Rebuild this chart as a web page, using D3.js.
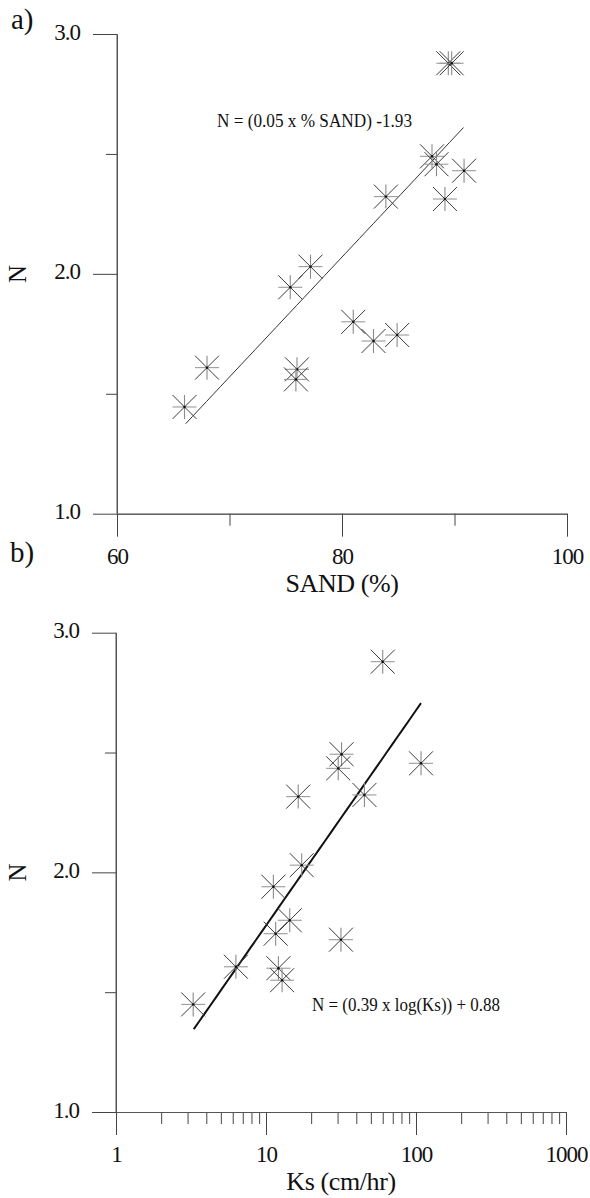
<!DOCTYPE html>
<html>
<head>
<meta charset="utf-8">
<script src="https://cdn.jsdelivr.net/npm/d3@7"></script>
<style>
  html, body { margin: 0; padding: 0; background: #fff; }
  svg { display: block; }
  svg text { font-family: "Liberation Serif", "Times New Roman", Tinos, "Noto Serif", "DejaVu Serif", serif; fill: #111; }
</style>
</head>
<body>
<svg id="chart" width="590" height="1198"></svg>
<script>
// Panel a: curve-shape parameter N against sand content
const sandPct = [89.45, 89.75, 88.0, 88.4, 90.85, 89.15, 83.9, 77.2, 75.4, 81.0, 82.8, 84.9, 68.0, 66.0, 76.0, 75.9];
const nSand   = [2.878, 2.878, 2.49, 2.457, 2.43, 2.312, 2.322, 2.03, 1.944, 1.80, 1.72, 1.745, 1.609, 1.445, 1.602, 1.56];

// Panel b: N against saturated hydraulic conductivity
const ksVals = [60, 108, 31.9, 30.3, 45.3, 16.4, 17.3, 11.2, 14.4, 11.6, 31.6, 12.1, 12.8, 6.3, 3.27];
const nKs    = [2.879, 2.455, 2.493, 2.434, 2.323, 2.316, 2.03, 1.94, 1.80, 1.744, 1.719, 1.60, 1.55, 1.606, 1.449];

// Regression lines as printed on the panels
const sandFit = { slope: 0.05, intercept: -1.93, from: 66.1, to: 90.8 };
const ksFit   = { slope: 0.39, intercept: 0.88, from: 3.3, to: 108 };   // natural log

// Axis ticks and labels
const nMajor = [1, 2, 3];
const nMinor = [1.5, 2.5];
const sandMajor = [60, 80, 100];
const sandMinor = [70, 90];
const ksMajor = [1, 10, 100, 1000];
const ksMinor = [2,3,4,5,6,7,8,9, 20,30,40,50,60,70,80,90, 200,300,400,500,600,700,800,900];

const panelLabels = ["a)", "b)"];
const axisTitles = { n: "N", sand: "SAND (%)", ks: "Ks (cm/hr)" };
const equations = ["N = (0.05 x % SAND) -1.93", "N = (0.39 x log(Ks)) + 0.88"];

const svg = d3.select("#chart");

function star(g, x, y, r) {
  // eight-armed asterisk: lighter cross, darker diagonals, dark centre dot
  g.append("line").attr("x1", x - r).attr("x2", x + r).attr("y1", y).attr("y2", y)
    .attr("stroke", "#9a9a9a").attr("stroke-width", 1.1);
  g.append("line").attr("x1", x).attr("x2", x).attr("y1", y - r).attr("y2", y + r)
    .attr("stroke", "#8a8a8a").attr("stroke-width", 1.1);
  g.append("line").attr("x1", x - r).attr("x2", x + r).attr("y1", y - r).attr("y2", y + r)
    .attr("stroke", "#3a3a3a").attr("stroke-width", 1);
  g.append("line").attr("x1", x - r).attr("x2", x + r).attr("y1", y + r).attr("y2", y - r)
    .attr("stroke", "#3a3a3a").attr("stroke-width", 1);
  g.append("circle").attr("cx", x).attr("cy", y).attr("r", 1.2).attr("fill", "#111");
}

function styleAxis(g) {
  g.attr("font-family", null);
  g.selectAll("path.domain").attr("stroke", "#555").attr("stroke-width", 1);
  g.selectAll(".tick line").attr("stroke", "#444").attr("stroke-width", 1);
  g.selectAll(".tick text")
    .attr("font-size", 23)
    .attr("letter-spacing", "-1px")
    .attr("fill", "#111");
}

function drawPanel(opt) {
  const { x, y, xMajor, xMinor, xFormat, xs, ys, fit, fitFn, lineWidth, lineColor,
          label, labelPos, title, eq, eqPos, eqLen } = opt;
  const g = svg.append("g");
  const [x0] = x.range();
  const [y0] = y.range();

  // y axis: minor then major ticks with labels
  g.append("g").attr("transform", `translate(${x0},0)`)
    .call(d3.axisLeft(y).tickValues(nMinor).tickSize(11).tickSizeOuter(0).tickFormat(""))
    .call(styleAxis);
  const yAx = g.append("g").attr("transform", `translate(${x0},0)`)
    .call(d3.axisLeft(y).tickValues(nMajor).tickSize(24).tickPadding(13).tickSizeOuter(0).tickFormat(d3.format(".1f")))
    .call(styleAxis);
  yAx.selectAll(".tick text").attr("dy", "0.22em");
  yAx.select("path.domain").attr("d", `M0,${y(3)}V${y(1)}`);

  // x axis
  g.append("g").attr("transform", `translate(0,${y0})`)
    .call(d3.axisBottom(x).tickValues(xMinor).tickSize(12).tickSizeOuter(0).tickFormat(""))
    .call(styleAxis);
  g.append("g").attr("transform", `translate(0,${y0})`)
    .call(d3.axisBottom(x).tickValues(xMajor).tickSize(23).tickPadding(11).tickSizeOuter(0).tickFormat(xFormat))
    .call(styleAxis);

  // axis titles
  g.append("text")
    .attr("transform", `translate(${17},${y(2)}) rotate(-90)`)
    .attr("text-anchor", "middle").attr("dy", "0.35em")
    .attr("font-size", 25).text(axisTitles.n);
  g.append("text")
    .attr("x", (x.range()[0] + x.range()[1]) / 2).attr("y", y0 + 78)
    .attr("text-anchor", "middle").attr("font-size", 26).attr("letter-spacing", "-0.4px")
    .text(title);

  // panel letter
  g.append("text").attr("x", labelPos[0]).attr("y", labelPos[1])
    .attr("font-size", 29).text(label);

  // regression line
  const pts = d3.range(0, 41).map(i => {
    const xv = opt.logX
      ? fit.from * Math.pow(fit.to / fit.from, i / 40)
      : fit.from + (fit.to - fit.from) * i / 40;
    return [xv, fitFn(xv)];
  });
  g.append("path")
    .attr("d", d3.line().x(d => x(d[0])).y(d => y(d[1]))(pts))
    .attr("fill", "none").attr("stroke", lineColor).attr("stroke-width", lineWidth);

  // data points
  const pg = g.append("g");
  xs.forEach((v, i) => star(pg, x(v), y(ys[i]), 12));

  // equation
  g.append("text").attr("x", eqPos[0]).attr("y", eqPos[1])
    .attr("font-size", 19).attr("textLength", eqLen).attr("lengthAdjust", "spacingAndGlyphs")
    .text(eq);
}

// Panel a
const xa = d3.scaleLinear().domain([60, 100]).range([117, 567]);
const ya = d3.scaleLinear().domain([1, 3]).range([513.7, 34]);
drawPanel({
  x: xa, y: ya, xMajor: sandMajor, xMinor: sandMinor, xFormat: d3.format("d"),
  xs: sandPct, ys: nSand, fit: sandFit, logX: false,
  fitFn: v => sandFit.slope * v + sandFit.intercept,
  lineWidth: 1, lineColor: "#333",
  label: panelLabels[0], labelPos: [11, 29], title: axisTitles.sand,
  eq: equations[0], eqPos: [217, 127], eqLen: 195
});

// Panel b
const xb = d3.scaleLog().domain([1, 1000]).range([116, 566]);
const yb = d3.scaleLinear().domain([1, 3]).range([1112, 632.7]);
drawPanel({
  x: xb, y: yb, xMajor: ksMajor, xMinor: ksMinor, xFormat: d3.format("d"),
  xs: ksVals, ys: nKs, fit: ksFit, logX: true,
  fitFn: v => ksFit.slope * Math.log(v) + ksFit.intercept,
  lineWidth: 2, lineColor: "#111",
  label: panelLabels[1], labelPos: [10, 562], title: axisTitles.ks,
  eq: equations[1], eqPos: [312, 1011], eqLen: 188
});
</script>
</body>
</html>
